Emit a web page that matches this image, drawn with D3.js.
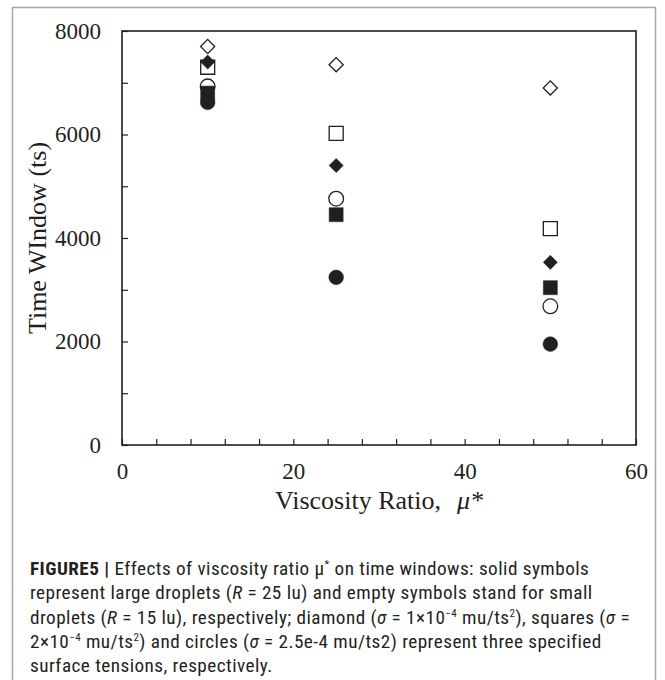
<!DOCTYPE html>
<html><head><meta charset="utf-8">
<script src="https://cdn.jsdelivr.net/npm/d3@7/dist/d3.min.js"></script>
<style>
body{margin:0;background:#fff;}
#wrap{position:relative;width:665px;height:680px;overflow:hidden;}
#cap{position:absolute;left:30px;top:557px;width:625px;font-family:"Liberation Sans Narrow","Roboto Condensed","Liberation Sans",Arial,sans-serif;font-size:19.2px;line-height:24.3px;letter-spacing:0.45px;color:#231f20;white-space:nowrap;}
#cap sup{font-size:11px;line-height:0;vertical-align:7px;}
#cap b{font-weight:bold;}
</style></head><body>
<div id="wrap"><svg id="chart" width="665" height="680"></svg>
<div id="cap">
<div><b>FIGURE5 |</b> Effects of viscosity ratio μ<sup>*</sup> on time windows: solid symbols</div>
<div>represent large droplets (<i>R</i> = 25 lu) and empty symbols stand for small</div>
<div>droplets (<i>R</i> = 15 lu), respectively; diamond (<i>σ</i> = 1×10<sup>−4</sup> mu/ts<sup>2</sup>), squares (<i>σ</i> =</div>
<div>2×10<sup>−4</sup> mu/ts<sup>2</sup>) and circles (<i>σ</i> = 2.5e-4 mu/ts2) represent three specified</div>
<div>surface tensions, respectively.</div>
</div></div>
<script>
// Data
const viscosityRatio = [10, 25, 50];
const openDiamond  = [7700, 7350, 6900];   // small droplet, sigma 1e-4
const openSquare   = [7300, 6020, 4180];   // small droplet, sigma 2e-4
const openCircle   = [6930, 4760, 2680];   // small droplet, sigma 2.5e-4
const solidDiamond = [7400, 5400, 3530];   // large droplet, sigma 1e-4
const solidSquare  = [6800, 4450, 3040];   // large droplet, sigma 2e-4
const solidCircle  = [6620, 3240, 1950];   // large droplet, sigma 2.5e-4
const xTicks = d3.range(0, 61, 4);
const yTicks = d3.range(0, 8001, 1000);
const xLabels = [0, 20, 40, 60];
const yLabels = [0, 2000, 4000, 6000, 8000];

const series = [
  {vals: openDiamond, shape: "diamond", filled: false},
  {vals: openSquare, shape: "square", filled: false},
  {vals: openCircle, shape: "circle", filled: false},
  {vals: solidDiamond, shape: "diamond", filled: true},
  {vals: solidSquare, shape: "square", filled: true},
  {vals: solidCircle, shape: "circle", filled: true}
];

const svg = d3.select("#chart");
// outer panel border
svg.append("path").attr("d", "M12.5,690 V7.5 H655.5 V690")
  .attr("fill", "none").attr("stroke", "#a6a6a6").attr("stroke-width", 1.5);

const x = d3.scaleLinear().domain([0, 60]).range([122, 636]);
const y = d3.scaleLinear().domain([0, 8000]).range([445, 31]);
const serif = "'Liberation Serif','Times New Roman',serif";

const xAxis = svg.append("g").attr("transform", "translate(0,445)")
  .call(d3.axisBottom(x).tickValues(xTicks).tickSizeInner(-6).tickSizeOuter(0).tickPadding(18)
    .tickFormat(d => xLabels.includes(d) ? d : ""));
const yAxis = svg.append("g").attr("transform", "translate(122,0)")
  .call(d3.axisLeft(y).tickValues(yTicks).tickSizeInner(-6).tickSizeOuter(0).tickPadding(21)
    .tickFormat(d => yLabels.includes(d) ? d : ""));
[xAxis, yAxis].forEach(g => {
  g.selectAll("path.domain").remove();
  g.selectAll("line").attr("stroke", "#231f20").attr("stroke-width", 1.2);
  g.selectAll("text").attr("font-family", serif).attr("font-size", 23).attr("fill", "#231f20");
});

// frame
svg.append("rect").attr("x", x(0)).attr("y", y(8000))
  .attr("width", x(60) - x(0)).attr("height", y(0) - y(8000))
  .attr("fill", "none").attr("stroke", "#231f20").attr("stroke-width", 1.6);

// axis titles
svg.append("text").attr("transform", `translate(46,${(y(0)+y(8000))/2}) rotate(-90)`)
  .attr("text-anchor", "middle").attr("font-family", serif).attr("font-size", 26)
  .attr("fill", "#231f20").text("Time WIndow (ts)");
const xt = svg.append("text").attr("x", (x(0)+x(60))/2).attr("y", 509)
  .attr("text-anchor", "middle").attr("font-family", serif).attr("font-size", 26).attr("fill", "#231f20");
xt.append("tspan").text("Viscosity Ratio,");
xt.append("tspan").attr("dx", 16).attr("font-style", "italic").text("μ");
xt.append("tspan").attr("font-style", "italic").text("*");

// markers
const symbolMap = {
  diamond: d3.symbol().type(d3.symbolSquare).size(100),
  square: d3.symbol().type(d3.symbolSquare).size(196),
  circle: d3.symbol().type(d3.symbolCircle).size(170)
};
series.forEach(s => {
  svg.append("g").selectAll("path").data(s.vals).join("path")
    .attr("d", symbolMap[s.shape]())
    .attr("transform", (v, i) => `translate(${x(viscosityRatio[i])},${y(v)})` + (s.shape === "diamond" ? " rotate(45)" : ""))
    .attr("fill", s.filled ? "#231f20" : "#fff")
    .attr("stroke", "#231f20").attr("stroke-width", s.filled ? 0.5 : 1.3);
});
</script></body></html>
